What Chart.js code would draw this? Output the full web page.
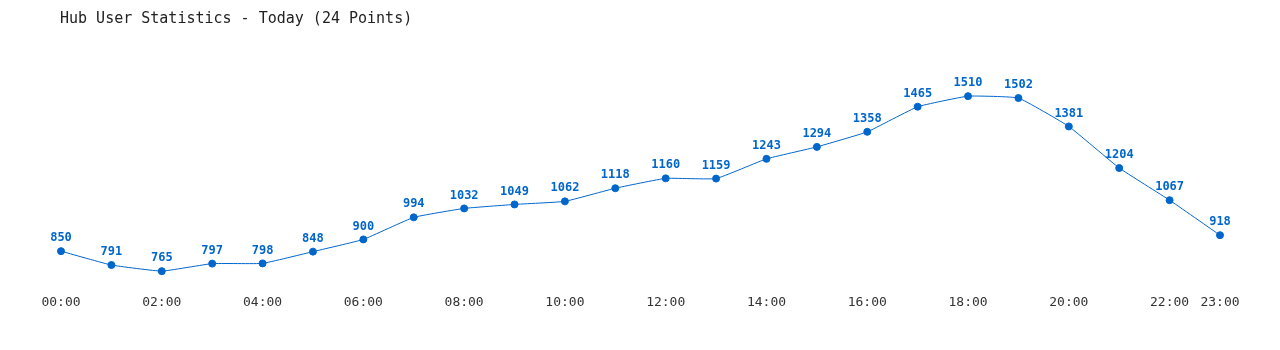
<!DOCTYPE html>
<html>
<head>
<meta charset="utf-8">
<script src="https://cdn.jsdelivr.net/npm/chart.js@4"></script>
<style>
  body { margin: 0; background: #fff; }
  #wrap { position: relative; width: 1280px; height: 350px; }
  #title {
    position: absolute; left: 60px; top: 9px;
    font: 15px "DejaVu Sans Mono", monospace; color: #222;
  }
</style>
</head>
<body>
<div id="wrap">
  <div id="title">Hub User Statistics - Today (24 Points)</div>
  <canvas id="chart" width="1280" height="350"></canvas>
</div>
<script>
const hours = ['00:00', '01:00', '02:00', '03:00', '04:00', '05:00', '06:00', '07:00',
    '08:00', '09:00', '10:00', '11:00', '12:00', '13:00', '14:00', '15:00',
    '16:00', '17:00', '18:00', '19:00', '20:00', '21:00', '22:00', '23:00'];
const users = [850, 791, 765, 797, 798, 848, 900, 994, 1032, 1049, 1062, 1118,
    1160, 1159, 1243, 1294, 1358, 1465, 1510, 1502, 1381, 1204, 1067, 918];

const blue = '#0066cc';

// draw the value over each point
const valueLabels = {
    id: 'valueLabels',
    afterDatasetsDraw(chart) {
        const ctx = chart.ctx;
        const meta = chart.getDatasetMeta(0);
        ctx.save();
        ctx.font = 'bold 12px "DejaVu Sans Mono", monospace';
        ctx.fillStyle = blue;
        ctx.textAlign = 'center';
        ctx.textBaseline = 'bottom';
        meta.data.forEach((pt, i) => {
            ctx.fillText(users[i], pt.x, pt.y - 7);
        });
        ctx.restore();
    }
};

new Chart(document.getElementById('chart'), {
    type: 'line',
    data: {
        labels: hours,
        datasets: [{
            data: users,
            borderColor: blue,
            backgroundColor: blue,
            borderWidth: 1,
            pointRadius: 3.5,
            pointHoverRadius: 3.5,
            tension: 0.1
        }]
    },
    options: {
        responsive: false,
        animation: false,
        layout: { padding: { left: 61, right: 60, top: 75, bottom: 40 } },
        plugins: { legend: { display: false }, tooltip: { enabled: false } },
        scales: {
            x: {
                grid: { display: false },
                border: { display: false },
                ticks: {
                    autoSkip: false,
                    maxRotation: 0,
                    padding: 0,
                    color: '#333',
                    font: { family: '"DejaVu Sans Mono", monospace', size: 13 },
                    callback: (v, i) => (i % 2 === 0 || i === hours.length - 1) ? hours[i] : ''
                }
            },
            y: {
                display: false,
                min: 700,
                max: 1600
            }
        }
    },
    plugins: [valueLabels]
});
</script>
</body>
</html>
